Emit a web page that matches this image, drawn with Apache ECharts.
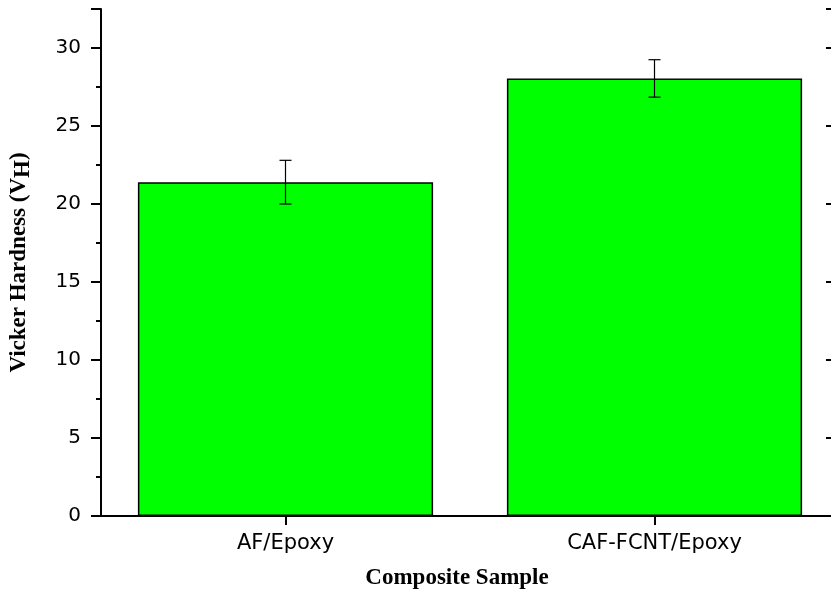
<!DOCTYPE html>
<html><head><meta charset="utf-8">
<script src="https://cdn.jsdelivr.net/npm/echarts@6/dist/echarts.min.js"></script>
<style>html,body{margin:0;padding:0;overflow:hidden;background:#fff}#c{width:850px;height:599px}</style>
</head><body><div id="c"></div>
<script>
const categories = ['AF/Epoxy', 'CAF-FCNT/Epoxy'];
const hardness = [21.4, 28.05];
const errLow = [20.0, 26.85];
const errHigh = [22.8, 29.25];
const yTicks = [0, 5, 10, 15, 20, 25, 30];

const chart = echarts.init(document.getElementById('c'), null, {renderer: 'canvas'});
const axisLine = {show: true, lineStyle: {color: '#000', width: 2}};
chart.setOption({
  animation: false,
  backgroundColor: '#fff',
  grid: {left: 100, right: 11, top: 9, bottom: 83, containLabel: false},
  xAxis: [{
    type: 'category', data: categories, position: 'bottom',
    axisLine: axisLine,
    axisTick: {show: true, alignWithLabel: true, inside: false, length: 9, lineStyle: {color: '#000', width: 2}},
    axisLabel: {color: '#000', fontSize: 21, fontFamily: 'DejaVu Sans', margin: 17},
    name: 'Composite Sample', nameLocation: 'middle', nameGap: 51,
    nameTextStyle: {color: '#000', fontSize: 23, fontWeight: 'bold', fontFamily: 'Liberation Serif', padding: [0, 26, 0, 0]}
  }, {
    type: 'category', data: categories, position: 'top',
    axisLine: axisLine,
    axisTick: {show: true, alignWithLabel: true, inside: true, length: 9, lineStyle: {color: '#000', width: 2}},
    axisLabel: {show: false}
  }],
  yAxis: [{
    type: 'value', min: 0, max: 32.5, interval: 5, position: 'left',
    axisLine: axisLine,
    axisTick: {show: true, inside: false, length: 10, lineStyle: {color: '#000', width: 2}},
    minorTick: {show: true, splitNumber: 2, length: 5, lineStyle: {color: '#000', width: 2}},
    splitLine: {show: false},
    axisLabel: {color: '#000', fontSize: 20, fontFamily: 'DejaVu Sans', margin: 20,
      formatter: v => yTicks.includes(v) ? String(v) : ''},
    name: 'Vicker Hardness (V{s|H})', nameLocation: 'middle', nameGap: 66,
    nameTextStyle: {color: '#000', fontSize: 23, fontWeight: 'bold', fontFamily: 'Liberation Serif',
      rich: {s: {fontSize: 23, fontWeight: 'bold', fontFamily: 'Liberation Serif', color: '#000', padding: [8, 0, 0, 0]}}}
  }, {
    type: 'value', min: 0, max: 32.5, interval: 5, position: 'right',
    axisLine: axisLine,
    axisTick: {show: true, inside: true, length: 13, lineStyle: {color: '#000', width: 2}},
    splitLine: {show: false},
    axisLabel: {show: false}
  }],
  series: [{
    type: 'bar', data: hardness, barWidth: '80%', xAxisIndex: 0, yAxisIndex: 0,
    itemStyle: {color: '#00ff00', borderColor: '#000', borderWidth: 1.5}
  }, {
    type: 'custom', xAxisIndex: 0, yAxisIndex: 0, z: 5,
    data: categories.map((c, i) => [i, errLow[i], errHigh[i]]),
    renderItem: function (params, api) {
      const x = api.value(0);
      const lo = api.coord([x, api.value(1)]);
      const hi = api.coord([x, api.value(2)]);
      const hw = 6;
      const st = {stroke: '#000', lineWidth: 1.2};
      return {type: 'group', children: [
        {type: 'line', shape: {x1: lo[0], y1: lo[1], x2: hi[0], y2: hi[1]}, style: st},
        {type: 'line', shape: {x1: lo[0] - hw, y1: lo[1], x2: lo[0] + hw, y2: lo[1]}, style: st},
        {type: 'line', shape: {x1: hi[0] - hw, y1: hi[1], x2: hi[0] + hw, y2: hi[1]}, style: st}
      ]};
    }
  }]
});
</script></body></html>
